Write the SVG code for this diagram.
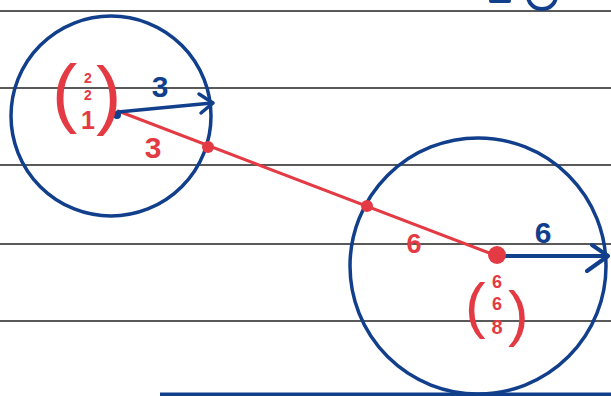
<svg xmlns="http://www.w3.org/2000/svg" width="611" height="396" viewBox="0 0 611 396">
<style>
.rule{stroke:#222;stroke-width:1.6}
.blue{stroke:#123f8c;fill:none;stroke-linecap:round;stroke-linejoin:round}
.red{stroke:#e33a44;fill:none;stroke-linecap:round}
.bt{fill:#123f8c;font-family:"Liberation Sans",Arial,sans-serif;font-weight:bold}
.rt{fill:#e33a44;font-family:"Liberation Sans",Arial,sans-serif;font-weight:bold}
.rp{fill:#e33a44;font-family:"Liberation Sans",Arial,sans-serif}
</style>
<rect width="611" height="396" fill="#fff"/>
<g id="rules">
<line class="rule" x1="0" y1="11" x2="611" y2="11"/>
<line class="rule" x1="0" y1="88" x2="611" y2="88"/>
<line class="rule" x1="0" y1="165" x2="611" y2="165"/>
<line class="rule" x1="0" y1="244" x2="611" y2="244"/>
<line class="rule" x1="0" y1="321" x2="611" y2="321"/>
</g>
<g id="topmark">
<line class="blue" x1="491" y1="1" x2="509" y2="1" stroke-width="4"/>
<ellipse class="blue" cx="542" cy="-4" rx="14" ry="13" stroke-width="4"/>
</g>
<g id="bottomline">
<line x1="160" y1="394.5" x2="611" y2="394.5" stroke="#123f8c" stroke-width="4"/>
</g>
<g id="sphere1">
<circle class="blue" cx="111" cy="116" r="100" stroke-width="3.5"/>
</g>
<g id="sphere2">
<circle class="blue" cx="478" cy="266" r="128" stroke-width="3.5"/>
</g>
<g id="connectors">
<line class="red" x1="118" y1="111" x2="497" y2="256" stroke-width="3"/>
<line class="blue" x1="118" y1="112" x2="212" y2="103" stroke-width="3.5"/>
<polyline class="blue" points="199,94 213,103 201,113" stroke-width="3.5"/>
<line class="blue" x1="497" y1="256" x2="607" y2="256" stroke-width="4"/>
<polyline class="blue" points="592,245 608,256 587,271" stroke-width="4"/>
<circle cx="208" cy="147" r="6" fill="#e33a44"/>
<circle cx="367" cy="206" r="6" fill="#e33a44"/>
<circle cx="497" cy="255" r="9" fill="#e33a44"/>
<circle cx="117" cy="115" r="4" fill="#123f8c"/>
</g>
<g id="labels">
<text class="bt" x="160" y="97" font-size="30" text-anchor="middle">3</text>
<text class="rt" x="153" y="158" font-size="30" text-anchor="middle">3</text>
<text class="rt" x="414" y="253" font-size="27" text-anchor="middle">6</text>
<text class="bt" x="543" y="243" font-size="30" text-anchor="middle">6</text>
</g>
<g id="vector1">
<text class="rp" x="52" y="118" font-size="76">(</text>
<text class="rp" x="96" y="120" font-size="76">)</text>
<text class="rt" text-anchor="middle"><tspan x="88" y="83" font-size="14">2</tspan><tspan x="88" y="100" font-size="14">2</tspan><tspan x="88" y="129" font-size="25">1</tspan></text>
</g>
<g id="vector2">
<text class="rp" x="465" y="326" font-size="62">(</text>
<text class="rp" x="508" y="334" font-size="62">)</text>
<text class="rt" text-anchor="middle"><tspan x="497" y="288" font-size="18">6</tspan><tspan x="497" y="310" font-size="18">6</tspan><tspan x="497" y="334" font-size="20">8</tspan></text>
</g>
</svg>
